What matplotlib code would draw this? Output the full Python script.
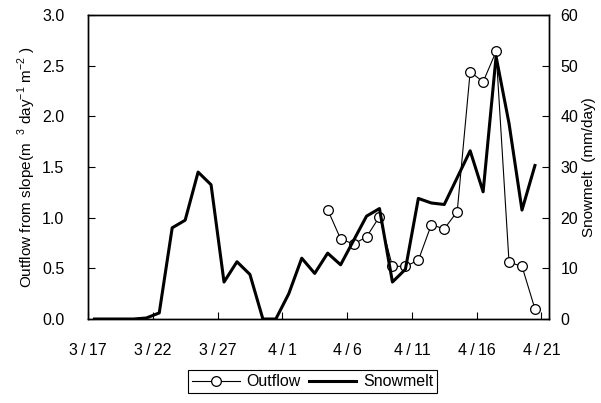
import matplotlib
matplotlib.use("Agg")
import matplotlib.pyplot as plt
import numpy as np

plt.rcParams['font.family'] = ['Liberation Sans', 'DejaVu Sans']
plt.rcParams['mathtext.fontset'] = 'custom'
plt.rcParams['mathtext.rm'] = 'Liberation Sans'

# days counted from 3/17 (day 0) to 4/20 (day 34)
days = np.arange(35)

snowmelt = [0, 0, 0, 0, 0.2, 1.2, 18.0, 19.5, 29.0, 26.5,
            7.3, 11.3, 8.8, 0, 0, 5.0, 12.0, 9.0, 13.0, 10.7,
            15.5, 20.3, 21.8, 7.3, 9.8, 23.8, 22.9, 22.6, 27.9, 33.2,
            25.1, 51.8, 38.6, 21.5, 30.3]

nan = np.nan
outflow = [nan] * 18 + [1.08, 0.79, 0.74, 0.81, 1.01, 0.52, 0.52, 0.58, 0.93, 0.89,
                        1.06, 2.44, 2.34, 2.64, 0.56, 0.52, 0.10]

tick_days = [0, 5, 10, 15, 20, 25, 30, 35]
tick_labels = ['3/17', '3/22', '3/27', '4/1', '4/6', '4/11', '4/16', '4/21']
tick_labels = [t.replace('/', '\u2009/\u2009') for t in tick_labels]

fig = plt.figure(figsize=(6.01, 4.03), dpi=100)
ax = fig.add_axes([0.1464, 0.2084, 0.7674, 0.7544])
ax2 = ax.twinx()

x = days + 0.5
l1, = ax.plot(x, outflow, color='black', lw=0.8, marker='o', ms=7,
              mfc='white', mec='black', mew=0.9, label='Outflow')
l2, = ax2.plot(x, snowmelt, color='black', lw=2.2, label='Snowmelt')

ax.set_xlim(0, 35.6)
ax.set_ylim(0, 3.0)
ax2.set_ylim(0, 60)
ax.set_yticks(np.arange(0, 3.01, 0.5))
ax.set_yticklabels(['%.1f' % v for v in np.arange(0, 3.01, 0.5)])
ax2.set_yticks(range(0, 61, 10))
ax.set_xticks(tick_days)
ax.set_xticklabels(tick_labels)

ax.tick_params(axis='x', direction='in', length=5, pad=17, labelsize=11.5)
ax.tick_params(axis='y', direction='in', length=5, pad=17, labelsize=11.5)
ax2.tick_params(axis='y', direction='in', length=5, pad=8, labelsize=11.5)

for a in (ax, ax2):
    for s in a.spines.values():
        s.set_linewidth(1.0)

ax.set_ylabel('Outflow from slope(m  $^{3}$ day$^{-1}$ m$^{-2}$ )', fontsize=11, labelpad=3)
ax2.set_ylabel('Snowmelt  (mm/day)', fontsize=11, labelpad=3)

leg = fig.legend([l1, l2], ['Outflow', 'Snowmelt'], loc='center', bbox_to_anchor=(0.52, 0.053),
                 ncol=2, fancybox=False, edgecolor='black', framealpha=1, fontsize=11.5,
                 handlelength=3.0, borderpad=0.25, columnspacing=0.5, handletextpad=0.4)
leg.get_frame().set_linewidth(0.8)

fig.savefig('out.png', dpi=100)
